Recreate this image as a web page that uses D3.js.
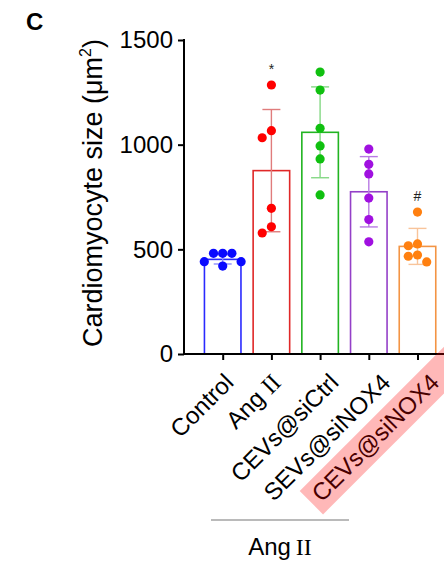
<!DOCTYPE html>
<html>
<head>
<meta charset="utf-8">
<script src="https://cdn.jsdelivr.net/npm/d3@7"></script>
<style>
  body { margin: 0; background: #fff; }
  svg text { font-family: Arial, "Liberation Sans", sans-serif; }
</style>
</head>
<body>
<div id="figure-div"></div>
<script>
// groups and values
var groups = ["Control", "Ang II", "CEVs@siCtrl", "SEVs@siNOX4", "CEVs@siNOX4"];
var means = [452, 876, 1059, 775, 514];
var sds = [22, 292, 217, 168, 86];
var points = [
  [481, 481, 481, 441, 441, 420],
  [1285, 1067, 1033, 696, 608, 578],
  [1347, 1261, 1078, 994, 932, 760],
  [979, 906, 860, 745, 642, 536],
  [678, 526, 517, 473, 467, 440]
];
var marks = ["", "*", "", "", "#"];
var yTicks = [0, 500, 1000, 1500];

var dotColors = ["#0a0aff", "#ff0000", "#10c010", "#a010e0", "#ff8010"];
var barColors = ["#2a2aff", "#e02828", "#22b422", "#9440c8", "#f39444"];
var errColors = ["#8c8cff", "#e07c7c", "#84d884", "#b87ae4", "#f8c49a"];

var w = 444, h = 562;
var axisX = 184, y0 = 354, yTop = 40;

var svg = d3.select("#figure-div").append("svg")
  .attr("width", w)
  .attr("height", h);

var yScale = d3.scaleLinear()
  .domain([0, 1500])
  .range([y0, yTop]);

var xScale = d3.scalePoint()
  .domain(groups)
  .range([198.35, 441.85])
  .padding(0.5);

var barW = xScale.step() * 0.75;
var r = 4.6;

// panel letter
svg.append("text")
  .attr("x", 26)
  .attr("y", 30)
  .attr("font-size", "24px")
  .attr("font-weight", "bold")
  .text("C");

// y axis label
svg.append("text")
  .attr("transform", "translate(102,193) rotate(-90)")
  .attr("text-anchor", "middle")
  .attr("font-size", "27px")
  .html('Cardiomyocyte size (μm<tspan font-size="16px" dy="-11">2</tspan><tspan dy="11">)</tspan>');

// bars
svg.selectAll("rect.bar")
  .data(groups)
  .enter()
  .append("rect")
  .attr("class", "bar")
  .attr("x", function(d) { return xScale(d) - barW / 2 })
  .attr("y", function(d, i) { return yScale(means[i]) })
  .attr("width", barW)
  .attr("height", function(d, i) { return y0 - yScale(means[i]) })
  .attr("fill", "none")
  .attr("stroke", function(d, i) { return barColors[i] })
  .attr("stroke-width", 1.6);

// error bars (mean +/- SD)
var capW = 18;
groups.forEach(function(g, i) {
  var eg = svg.append("g").attr("stroke", errColors[i]).attr("stroke-width", 1.4);
  var cx = xScale(g);
  eg.append("line")
    .attr("x1", cx).attr("x2", cx)
    .attr("y1", yScale(means[i] - sds[i]))
    .attr("y2", yScale(means[i] + sds[i]));
  [-1, 1].forEach(function(s) {
    eg.append("line")
      .attr("x1", cx - capW / 2).attr("x2", cx + capW / 2)
      .attr("y1", yScale(means[i] + s * sds[i]))
      .attr("y2", yScale(means[i] + s * sds[i]));
  });
});

// simple beeswarm for the dots
function swarm(vals) {
  var placed = [];
  var order = vals.map(function(v, k) { return k }).sort(function(a, b) { return vals[b] - vals[a] });
  var step = 2 * r;
  var cands = [0, -1, 1, -2, 2, -3, 3];
  order.forEach(function(k) {
    var cy = yScale(vals[k]);
    for (var c = 0; c < cands.length; c++) {
      var dx = cands[c] * step;
      var ok = placed.every(function(p) {
        return Math.hypot(p.dx - dx, p.cy - cy) >= 2 * r - 0.6;
      });
      if (ok) { placed.push({ dx: dx, cy: cy }); break; }
    }
  });
  return placed;
}

groups.forEach(function(g, i) {
  svg.selectAll("circle.g" + i)
    .data(swarm(points[i]))
    .enter()
    .append("circle")
    .attr("class", "g" + i)
    .attr("cx", function(d) { return xScale(g) + d.dx })
    .attr("cy", function(d) { return d.cy })
    .attr("r", r)
    .attr("fill", dotColors[i]);
});

// significance marks
svg.selectAll("text.mark")
  .data(groups)
  .enter()
  .append("text")
  .attr("class", "mark")
  .attr("x", function(d) { return xScale(d) })
  .attr("y", function(d, i) { return yScale(d3.max(points[i])) - 11 })
  .attr("text-anchor", "middle")
  .attr("font-size", "14px")
  .attr("fill", "#222")
  .text(function(d, i) { return marks[i] });

// y axis
var yAxis = svg.append("g")
  .attr("transform", "translate(" + axisX + ",0)")
  .call(d3.axisLeft(yScale).tickValues(yTicks).tickFormat(d3.format("d")).tickSize(6).tickSizeOuter(0).tickPadding(5));
yAxis.select(".domain").attr("stroke-width", 2).attr("d", "M0," + (y0 + 1) + "V" + (yTop - 1));
yAxis.selectAll(".tick line").attr("stroke-width", 2);
yAxis.selectAll(".tick text").attr("font-size", "24px").attr("font-family", "Arial, 'Liberation Sans', sans-serif").attr("fill", "#000");

// x axis
var xAxis = svg.append("g")
  .attr("transform", "translate(0," + y0 + ")")
  .call(d3.axisBottom(xScale).tickSize(6).tickSizeOuter(0).tickFormat(""));
xAxis.select(".domain").attr("stroke-width", 2).attr("d", "M" + (axisX - 1) + ",0H" + w);
xAxis.selectAll(".tick line").attr("stroke-width", 2);

// rotated category labels, end point pushed right a bit more for longer labels
var labY = 384;
var labels = svg.selectAll("text.xlab")
  .data(groups)
  .enter()
  .append("text")
  .attr("class", "xlab")
  .attr("text-anchor", "end")
  .attr("font-size", "24px")
  .text(function(d) { return d.replace("II", "") })
  .each(function(d) {
    if (d.indexOf("II") >= 0) {
      d3.select(this).append("tspan")
        .attr("font-family", "'Times New Roman', 'Liberation Serif', serif")
        .text("II");
    }
  });
var labX = [];
labels.each(function(d, i) {
  labX[i] = xScale(d) + 3 + 0.12 * this.getComputedTextLength();
});
labels.attr("transform", function(d, i) { return "translate(" + labX[i] + "," + labY + ") rotate(-45)" });

// highlight over the last label
var last = groups.length - 1;
var lastLen = labels.filter(function(d, i) { return i == last }).node().getComputedTextLength();
svg.append("rect")
  .attr("transform", "translate(" + labX[last] + "," + labY + ") rotate(-45)")
  .attr("x", -lastLen - 7)
  .attr("y", -24)
  .attr("width", lastLen + 40)
  .attr("height", 33)
  .attr("fill", "#ff0000")
  .attr("opacity", 0.28);

// Ang II bracket
svg.append("line")
  .attr("x1", 211).attr("x2", 349)
  .attr("y1", 520).attr("y2", 520)
  .attr("stroke", "#777")
  .attr("stroke-width", 1.2);

var angText = svg.append("text")
  .attr("x", 280)
  .attr("y", 555)
  .attr("text-anchor", "middle")
  .attr("font-size", "24px")
  .text("Ang");
angText.append("tspan")
  .attr("dx", 5)
  .attr("font-family", "'Times New Roman', 'Liberation Serif', serif")
  .text("II");
</script>
</body>
</html>
